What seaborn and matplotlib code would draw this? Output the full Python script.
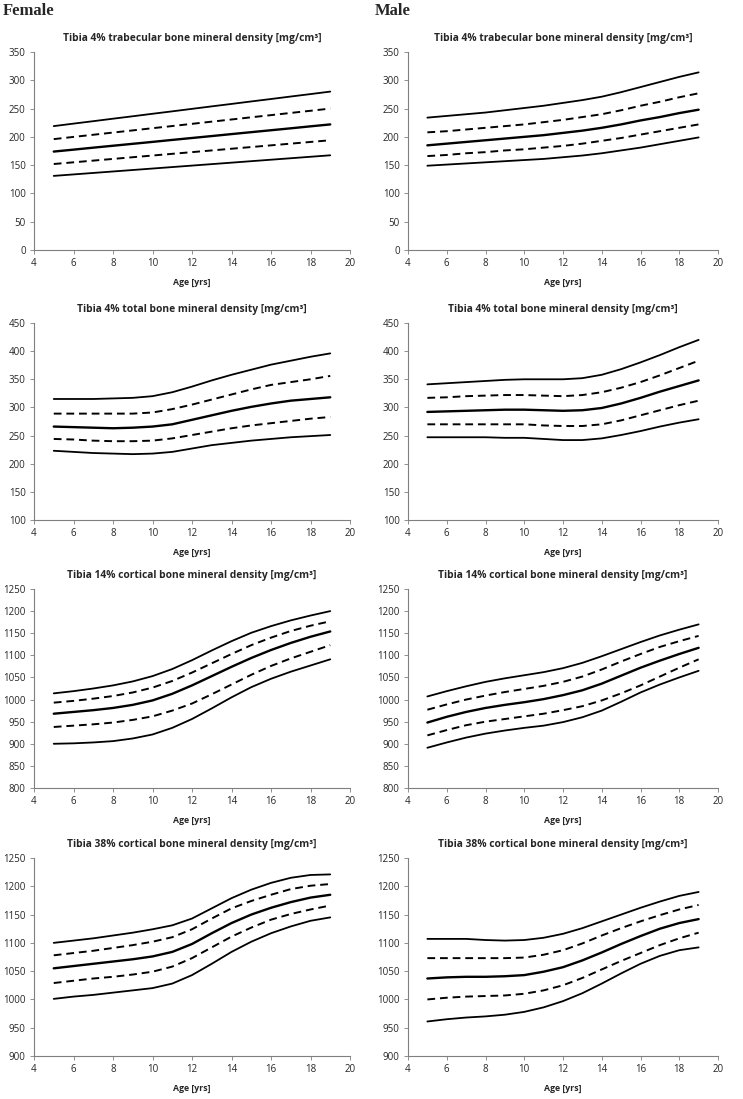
import numpy as np
import pandas as pd
import matplotlib
matplotlib.use('Agg')
import matplotlib.pyplot as plt
import seaborn as sns

# ages (years) at which the reference curves were read
ages = list(range(5, 20))

# Female, tibia 4% trabecular BMD
f_trab_lo2 = [131, 133.6, 136.2, 138.8, 141.4, 144, 146.6, 149.2, 151.8, 154.4, 157, 159.6, 162.2, 164.8, 167.4]
f_trab_lo1 = [152, 155, 158, 161, 164, 167, 170, 173, 176, 179, 182, 185, 188, 191, 194]
f_trab_mid = [174, 177.4, 180.9, 184.3, 187.7, 191.1, 194.6, 198, 201.4, 204.9, 208.3, 211.7, 215.1, 218.6, 222]
f_trab_hi1 = [196, 199.9, 203.7, 207.6, 211.4, 215.3, 219.1, 223, 226.9, 230.7, 234.6, 238.4, 242.3, 246.1, 250]
f_trab_hi2 = [219, 223.4, 227.7, 232.1, 236.4, 240.8, 245.1, 249.5, 253.9, 258.2, 262.6, 266.9, 271.3, 275.6, 280]

# Male, tibia 4% trabecular BMD
m_trab_lo2 = [149, 151, 153, 155, 157, 159, 161, 164, 167, 171, 176, 181, 187, 193, 199]
m_trab_lo1 = [166, 168, 171, 173, 176, 178, 181, 184, 188, 193, 198, 204, 210, 216, 222]
m_trab_mid = [185, 188, 191, 194, 197, 200, 203, 207, 211, 216, 222, 229, 235, 242, 248]
m_trab_hi1 = [208, 210, 213, 216, 219, 222, 226, 230, 235, 240, 247, 255, 262, 270, 277]
m_trab_hi2 = [234, 237, 240, 243, 247, 251, 255, 260, 265, 271, 279, 288, 297, 306, 314]

# Female, tibia 4% total BMD
f_tot_lo2 = [223, 221, 219, 218, 217, 218, 221, 227, 233, 237, 241, 244, 247, 249, 251]
f_tot_lo1 = [244, 243, 241, 240, 240, 241, 245, 251, 257, 263, 268, 272, 276, 280, 283]
f_tot_mid = [266, 265, 264, 263, 264, 266, 270, 278, 286, 294, 301, 307, 312, 315, 318]
f_tot_hi1 = [289, 289, 289, 289, 289, 291, 297, 305, 314, 323, 332, 340, 345, 350, 356]
f_tot_hi2 = [315, 315, 315, 316, 317, 320, 327, 337, 348, 358, 367, 376, 383, 390, 396]

# Male, tibia 4% total BMD
m_tot_lo2 = [247, 247, 247, 247, 246, 246, 244, 242, 242, 245, 251, 258, 266, 273, 279]
m_tot_lo1 = [270, 270, 270, 270, 270, 270, 268, 267, 267, 270, 277, 286, 295, 304, 312]
m_tot_mid = [292, 293, 294, 295, 296, 296, 295, 294, 295, 299, 307, 317, 328, 338, 348]
m_tot_hi1 = [317, 318, 320, 321, 322, 322, 321, 320, 322, 327, 335, 345, 357, 370, 383]
m_tot_hi2 = [341, 343, 345, 347, 349, 350, 350, 350, 352, 358, 368, 380, 393, 407, 420]

# Female, tibia 14% cortical BMD
f_c14_lo2 = [900, 901, 903, 906, 912, 921, 936, 956, 980, 1005, 1028, 1047, 1063, 1077, 1091]
f_c14_lo1 = [938, 941, 944, 948, 954, 962, 975, 991, 1012, 1034, 1056, 1076, 1093, 1108, 1123]
f_c14_mid = [968, 972, 976, 981, 988, 998, 1013, 1032, 1053, 1074, 1094, 1112, 1128, 1142, 1154]
f_c14_hi1 = [993, 997, 1002, 1008, 1016, 1027, 1042, 1061, 1082, 1103, 1123, 1140, 1155, 1167, 1177]
f_c14_hi2 = [1014, 1019, 1025, 1032, 1041, 1053, 1069, 1089, 1111, 1132, 1151, 1166, 1179, 1190, 1200]

# Male, tibia 14% cortical BMD
m_c14_lo2 = [891, 903, 914, 923, 930, 936, 941, 949, 960, 975, 995, 1016, 1034, 1050, 1065]
m_c14_lo1 = [919, 931, 942, 950, 956, 962, 968, 976, 985, 998, 1014, 1032, 1052, 1072, 1091]
m_c14_mid = [948, 961, 972, 981, 988, 994, 1001, 1010, 1021, 1036, 1054, 1072, 1088, 1103, 1117]
m_c14_hi1 = [977, 989, 1000, 1009, 1017, 1024, 1031, 1040, 1052, 1068, 1086, 1103, 1119, 1132, 1144]
m_c14_hi2 = [1007, 1019, 1030, 1040, 1048, 1055, 1062, 1071, 1083, 1098, 1114, 1130, 1145, 1158, 1170]

# Female, tibia 38% cortical BMD
f_c38_lo2 = [1001, 1005, 1008, 1012, 1016, 1020, 1028, 1043, 1063, 1084, 1102, 1117, 1129, 1139, 1145]
f_c38_lo1 = [1029, 1033, 1037, 1040, 1044, 1049, 1058, 1073, 1092, 1111, 1127, 1141, 1151, 1159, 1166]
f_c38_mid = [1055, 1059, 1063, 1067, 1071, 1076, 1084, 1098, 1117, 1135, 1150, 1162, 1172, 1180, 1185]
f_c38_hi1 = [1078, 1082, 1086, 1091, 1096, 1102, 1110, 1124, 1143, 1161, 1174, 1185, 1195, 1201, 1204]
f_c38_hi2 = [1100, 1104, 1108, 1113, 1118, 1124, 1131, 1143, 1161, 1179, 1194, 1206, 1215, 1220, 1221]

# Male, tibia 38% cortical BMD
m_c38_lo2 = [961, 965, 968, 970, 973, 978, 986, 997, 1011, 1028, 1046, 1063, 1077, 1087, 1092]
m_c38_lo1 = [1000, 1003, 1005, 1006, 1007, 1010, 1016, 1025, 1038, 1053, 1068, 1082, 1096, 1108, 1118]
m_c38_mid = [1037, 1039, 1040, 1040, 1041, 1043, 1049, 1057, 1069, 1083, 1098, 1112, 1125, 1135, 1142]
m_c38_hi1 = [1073, 1073, 1073, 1073, 1073, 1074, 1079, 1087, 1099, 1113, 1126, 1138, 1149, 1159, 1167]
m_c38_hi2 = [1107, 1107, 1107, 1105, 1104, 1105, 1109, 1116, 1126, 1138, 1150, 1162, 1173, 1183, 1190]

titles = [
    "Tibia 4% trabecular bone mineral density [mg/cm\u00b3]",
    "Tibia 4% total bone mineral density [mg/cm\u00b3]",
    "Tibia 14% cortical bone mineral density [mg/cm\u00b3]",
    "Tibia 38% cortical bone mineral density [mg/cm\u00b3]",
]
y_ranges = [(0, 350, 50), (100, 450, 50), (800, 1250, 50), (900, 1250, 50)]

female = [
    [f_trab_lo2, f_trab_lo1, f_trab_mid, f_trab_hi1, f_trab_hi2],
    [f_tot_lo2, f_tot_lo1, f_tot_mid, f_tot_hi1, f_tot_hi2],
    [f_c14_lo2, f_c14_lo1, f_c14_mid, f_c14_hi1, f_c14_hi2],
    [f_c38_lo2, f_c38_lo1, f_c38_mid, f_c38_hi1, f_c38_hi2],
]
male = [
    [m_trab_lo2, m_trab_lo1, m_trab_mid, m_trab_hi1, m_trab_hi2],
    [m_tot_lo2, m_tot_lo1, m_tot_mid, m_tot_hi1, m_tot_hi2],
    [m_c14_lo2, m_c14_lo1, m_c14_mid, m_c14_hi1, m_c14_hi2],
    [m_c38_lo2, m_c38_lo1, m_c38_mid, m_c38_hi1, m_c38_hi2],
]

# style for each of the 5 curves (outer, inner, median, inner, outer)
line_styles = ['-', (0, (4, 2.5)), '-', (0, (4, 2.5)), '-']
line_widths = [1.3, 1.4, 1.7, 1.4, 1.3]

sns.set_style('white')
plt.rcParams['font.family'] = ['Open Sans', 'DejaVu Sans']

W, H = 743, 1099
fig = plt.figure(figsize=(W / 100, H / 100), dpi=100)

# axes boxes in pixels: (top, bottom) per row, (left, right) per column
row_px = [(52, 250), (323, 520), (589, 788), (858, 1056)]
col_px = [(34, 350), (408, 718)]


def draw_panel(ax, curves, title, yr):
    for vals, ls, lw in zip(curves, line_styles, line_widths):
        sns.lineplot(x=ages, y=vals, ax=ax, color='black', linestyle=ls, linewidth=lw)
    ax.set_xlim(4, 20)
    ax.set_ylim(yr[0], yr[1])
    ax.set_xticks(range(4, 21, 2))
    ax.set_yticks(np.arange(yr[0], yr[1] + 1, yr[2]))
    ax.set_title(title, fontsize=7.4, fontweight='bold', pad=8)
    ax.set_xlabel('Age [yrs]', fontsize=6.3, fontweight='bold', labelpad=6)
    ax.set_ylabel('')
    ax.tick_params(axis='both', labelsize=7, length=3, width=0.6, color='#7f7f7f',
                   direction='out', left=True, bottom=True, pad=3)
    for side in ['top', 'right']:
        ax.spines[side].set_visible(False)
    for side in ['left', 'bottom']:
        ax.spines[side].set_color('#7f7f7f')
        ax.spines[side].set_linewidth(0.8)


for c, data in enumerate([female, male]):
    for r in range(4):
        top, bot = row_px[r]
        left, right = col_px[c]
        ax = fig.add_axes([left / W, 1 - bot / H, (right - left) / W, (bot - top) / H])
        draw_panel(ax, data[r], titles[r], y_ranges[r])

fig.text(3 / W, 1 - 3 / H, 'Female', fontsize=12, fontweight='bold',
         family=['Liberation Serif', 'DejaVu Serif'], va='top', ha='left')
fig.text(375 / W, 1 - 3 / H, 'Male', fontsize=12, fontweight='bold',
         family=['Liberation Serif', 'DejaVu Serif'], va='top', ha='left')

fig.savefig('out.png', dpi=100)
